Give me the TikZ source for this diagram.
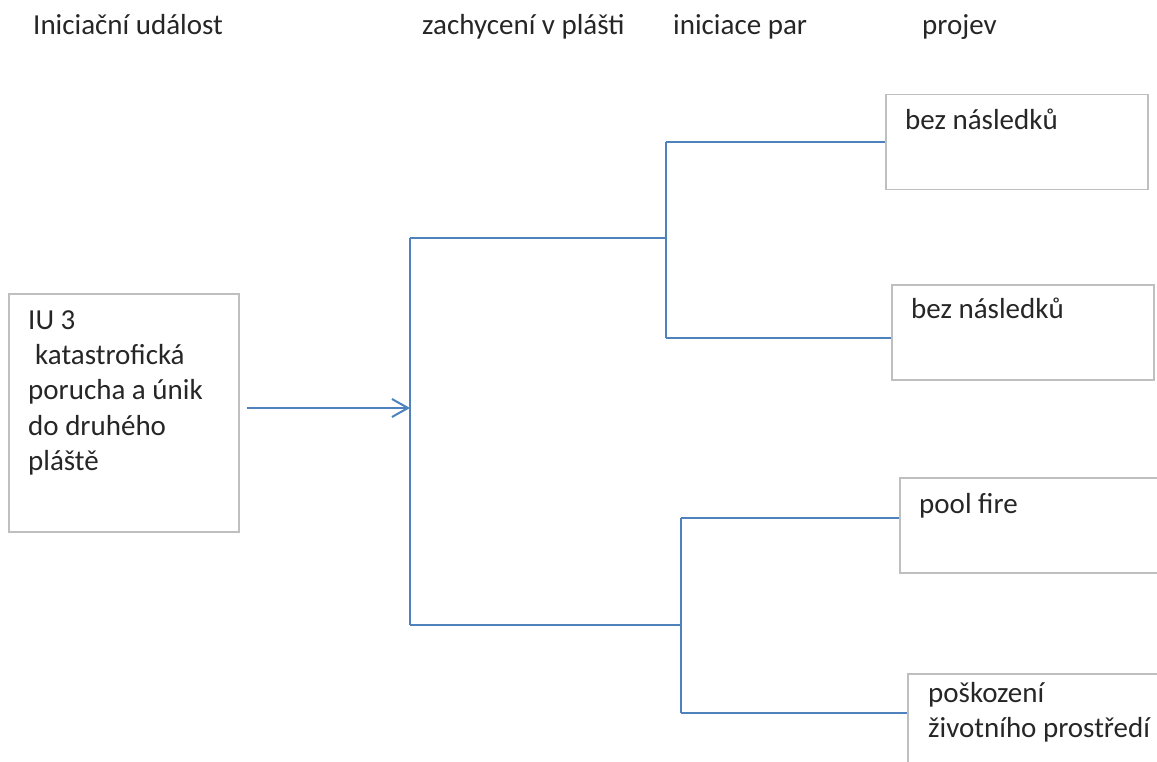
\documentclass[tikz,border=0pt]{standalone}
\usepackage{fontspec}
\setmainfont{Carlito}
\usetikzlibrary{arrows.meta,positioning}
\definecolor{etblue}{RGB}{79,129,189}
\definecolor{etgray}{RGB}{191,191,191}
\definecolor{ettext}{RGB}{38,38,38}

\begin{document}
\begin{tikzpicture}[
    x=1pt, y=-1pt,
    box/.style={
        draw=etgray,
        line width=1.5pt,
        anchor=north west,
        inner sep=0pt,
        minimum width=262pt,
        minimum height=95pt
    },
    txt/.style={font=\fontsize{29}{35.4}\selectfont, text=ettext, inner sep=0pt, anchor=base west},
    multi/.style={txt, text width=240pt, align=flush left},
    branch/.style={etblue, line width=2pt},
    arrow/.style={branch, -{Straight Barb[length=16pt,width=18pt]}, shorten <=7pt}
]
\clip (0,0) rectangle (1157,762);

% Column headings.
\node[txt] (hinit) at (33,35) {Iniciační událost};
\node[txt] (hcapt) at (422,35) {zachycení v plášti};
\node[txt] (hvap) at (673,35) {iniciace par};
\node[txt] (hshow) at (922,35) {projev};

% Initiating event.
\node[box, minimum width=230pt, minimum height=238pt] (iu) at (8,293) {};
\node[multi] (iutext) at ([xshift=20pt,yshift=-36pt]iu.north west)
    {IU 3\\ \hspace*{7pt}katastrofická\\ porucha a únik\\ do druhého\\ pláště};

% Outcome boxes.
\node[box] (out1) at (885,94) {};
\node[box] (out2) at (891,284) {};
\node[box] (out3) at (899,477) {};
\node[box] (out4) at (907,673) {};
\node[txt] (out1text) at ([xshift=20pt,yshift=-36pt]out1.north west) {bez následků};
\node[txt] (out2text) at ([xshift=20pt,yshift=-34pt]out2.north west) {bez následků};
\node[txt] (out3text) at ([xshift=20pt,yshift=-36pt]out3.north west) {pool fire};
\node[multi] (out4text) at ([xshift=21pt,yshift=-29pt]out4.north west)
    {poškození\\ životního prostředí};

% Branch points.
\coordinate (hit) at (410,408);
\coordinate (capttop) at (410,238);
\coordinate (captbot) at (410,625);
\coordinate (vaptop) at (666,142);
\coordinate (vapbot) at (666,338);
\coordinate (firetop) at (681,518);
\coordinate (firebot) at (681,713);

\draw[arrow] (iu.east |- hit) -- (hit);
\draw[branch] (capttop) -- (captbot);
\draw[branch] (capttop) -- (capttop -| vaptop) -- (vaptop);
\draw[branch] (vaptop) -- (vapbot);
\draw[branch] (captbot) -- (captbot -| firetop) -- (firetop);
\draw[branch] (firetop) -- (firebot);

\draw[branch] (vaptop) -- (vaptop -| out1.west);
\draw[branch] (vapbot) -- (vapbot -| out2.west);
\draw[branch] (firetop) -- (firetop -| out3.west);
\draw[branch] (firebot) -- (firebot -| out4.west);

\end{tikzpicture}
\end{document}
